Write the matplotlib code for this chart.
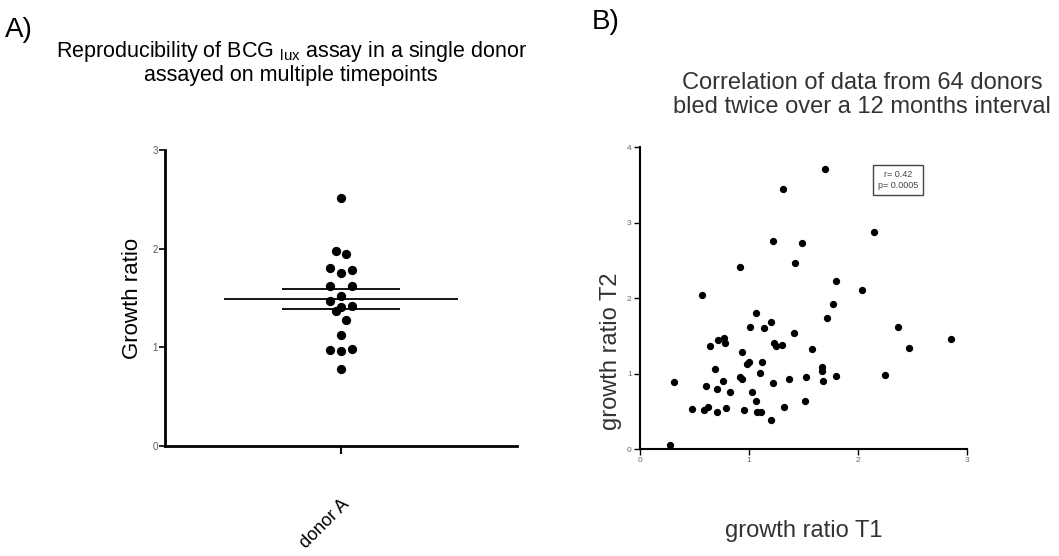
import numpy as np
import matplotlib
matplotlib.use('Agg')
import matplotlib.pyplot as plt

plt.rcParams['font.family'] = ['Liberation Sans', 'DejaVu Sans']
plt.rcParams['mathtext.fontset'] = 'custom'
plt.rcParams['mathtext.rm'] = 'Liberation Sans'

# panel A: one donor, repeated assays
donor_label = ['donor A']
growth_a = [2.51, 1.98, 1.95, 1.80, 1.75, 1.78, 1.62, 1.62, 1.52, 1.47,
            1.41, 1.42, 1.37, 1.28, 1.13, 0.97, 0.96, 0.98, 0.78]
jitter_a = [0, -0.03, 0.03, -0.065, 0, 0.065, -0.065, 0.065, 0, -0.065,
            0, 0.065, -0.03, 0.03, 0, -0.065, 0, 0.065, 0]

# panel B: T1 vs T2
t1 = [0.28, 0.31, 0.48, 0.59, 0.62, 0.57, 0.64, 0.61, 0.69, 0.71, 0.71, 0.72, 0.77,
      0.78, 0.76, 0.79, 0.83, 0.92, 0.92, 0.94, 0.94, 0.95, 0.98, 1.00, 1.01, 1.03,
      1.06, 1.06, 1.07, 1.11, 1.10, 1.12, 1.14, 1.20, 1.20, 1.22, 1.22, 1.23, 1.25,
      1.30, 1.31, 1.32, 1.37, 1.41, 1.42, 1.49, 1.51, 1.52, 1.58, 1.67, 1.67, 1.68,
      1.70, 1.72, 1.77, 1.80, 1.80, 2.04, 2.15, 2.25, 2.37, 2.47, 2.85]
t2 = [0.05, 0.89, 0.53, 0.52, 0.55, 2.04, 1.36, 0.83, 1.06, 0.80, 0.49, 1.45, 1.47,
      1.41, 0.90, 0.54, 0.75, 2.41, 0.95, 0.93, 1.29, 0.52, 1.12, 1.15, 1.61, 0.75,
      1.80, 0.64, 0.49, 0.49, 1.01, 1.15, 1.60, 1.68, 0.39, 0.88, 2.76, 1.40, 1.37,
      1.38, 3.45, 0.55, 0.93, 1.54, 2.46, 2.73, 0.64, 0.95, 1.32, 1.08, 1.04, 0.90,
      3.71, 1.74, 1.92, 2.22, 0.97, 2.10, 2.87, 0.98, 1.62, 1.34, 1.46]
stats_text = 'r= 0.42\np= 0.0005'

fig = plt.figure(figsize=(10.59, 5.56), dpi=100)

########## A
ax1 = fig.add_axes([0.1558, 0.1978, 0.3324, 0.5324])
ax1.scatter(np.array(jitter_a), growth_a, s=32, color='black', zorder=3)
m = np.mean(growth_a)
sem = np.std(growth_a, ddof=1)/np.sqrt(len(growth_a))
ax1.hlines(m, -0.665, 0.665, color='black', lw=1.3)
ax1.hlines([m-sem, m+sem], -0.335, 0.335, color='black', lw=1.3)
ax1.set_xlim(-1, 1)
ax1.set_ylim(0, 3)
ax1.set_yticks([0, 1, 2, 3])
ax1.set_xticks([0])
ax1.set_xticklabels(donor_label, rotation=45, ha='right', rotation_mode='anchor', fontsize=13)
ax1.tick_params(axis='x', length=6, width=1.5, pad=30)
ax1.tick_params(axis='y', length=4, width=1.2, labelsize=7, labelcolor='#555555', pad=1)
for s in ['top', 'right']:
    ax1.spines[s].set_visible(False)
for s in ['left', 'bottom']:
    ax1.spines[s].set_linewidth(2)
ax1.set_ylabel('Growth ratio', fontsize=16, labelpad=7)

########## B
ax2 = fig.add_axes([0.6043, 0.1924, 0.3088, 0.5432])
ax2.scatter(t1, t2, s=18, color='black', zorder=3)
ax2.set_xlim(0, 3)
ax2.set_ylim(0, 4)
ax2.set_xticks([0, 1, 2, 3])
ax2.set_yticks([0, 1, 2, 3, 4])
ax2.tick_params(length=4, width=1, labelsize=6, labelcolor='#666666', pad=2)
for s in ['top', 'right']:
    ax2.spines[s].set_visible(False)
for s in ['left', 'bottom']:
    ax2.spines[s].set_linewidth(1.5)
# y label sits low, not centred on the axis
ax2.text(-0.088, 0.325, 'growth ratio T2', transform=ax2.transAxes, rotation=90,
         ha='center', va='center', fontsize=17, color='#333333')
ax2.set_xlabel('growth ratio T1', fontsize=17, color='#333333', labelpad=40)
ax2.text(0.789, 0.891, stats_text, transform=ax2.transAxes, ha='center', va='center',
         fontsize=6.5, color='#444444', linespacing=1.3,
         bbox=dict(boxstyle='square,pad=0.55', fc='white', ec='#444444', lw=1))

# titles and panel letters
fig.text(0.005, 0.946, 'A)', fontsize=20, va='center')
fig.text(0.559, 0.960, 'B)', fontsize=20, va='center')
fig.text(0.275, 0.908, 'Reproducibility of BCG $_{\\rm lux}$ assay in a single donor',
         fontsize=15.5, ha='center', va='center')
fig.text(0.275, 0.865, 'assayed on multiple timepoints', fontsize=15.5, ha='center', va='center')
fig.text(0.814, 0.850, 'Correlation of data from 64 donors', fontsize=17,
         ha='center', va='center', color='#333333')
fig.text(0.814, 0.808, 'bled twice over a 12 months interval', fontsize=17,
         ha='center', va='center', color='#333333')

plt.savefig('out.png', dpi=100)
